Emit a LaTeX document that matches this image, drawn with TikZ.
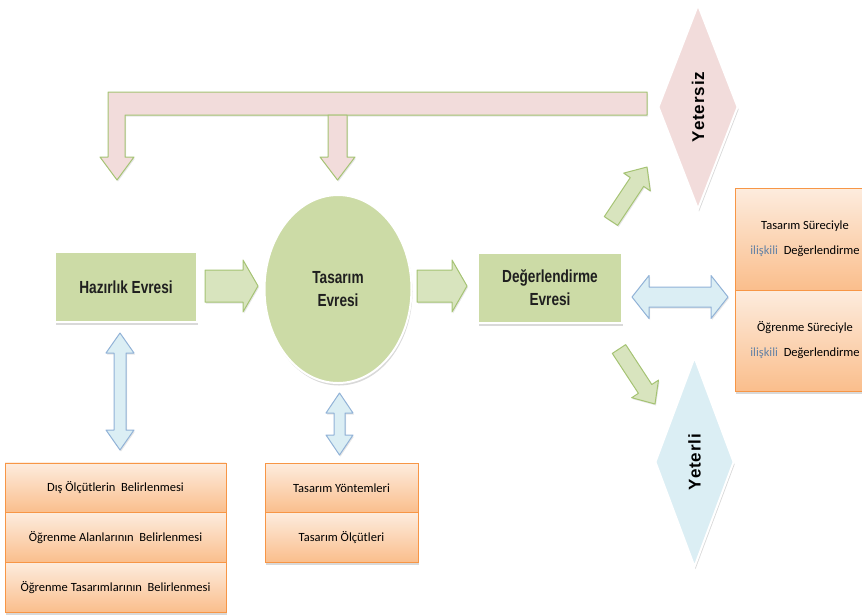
\documentclass[tikz,border=0pt]{standalone}
\usepackage{fontspec}
\setmainfont{Carlito}
\newfontfamily\nbfont[FakeStretch=0.78]{Liberation Sans}
\newfontfamily\dfont[LetterSpace=5]{Liberation Sans}
\usetikzlibrary{shapes.geometric,shadows}
\definecolor{boxgreen}{RGB}{204,219,166}
\definecolor{arrgreenfill}{RGB}{216,228,190}
\definecolor{arrgreenline}{RGB}{165,195,115}
\definecolor{pinkfill}{RGB}{242,220,219}
\definecolor{bluefill}{RGB}{219,238,244}
\definecolor{blueline}{RGB}{145,178,215}
\definecolor{orangetop}{RGB}{253,236,222}
\definecolor{orangebot}{RGB}{250,190,140}
\definecolor{orangeline}{RGB}{247,150,70}
\definecolor{iliscolor}{RGB}{100,130,165}
\tikzset{
  softshadow/.style={drop shadow={opacity=0.3, shadow xshift=1pt, shadow yshift=-2.5pt}},
  greenfont/.style={font=\nbfont\bfseries\fontsize{17.5}{23}\selectfont, text=black!88},
  greenbox/.style={rectangle, fill=boxgreen, draw=white, line width=2pt, softshadow,
    greenfont, align=center, inner sep=0pt},
  greenellipse/.style={ellipse, fill=boxgreen, draw=white, line width=2pt, softshadow,
    greenfont, align=center, inner sep=0pt},
  orangebox/.style={rectangle, draw=orangeline, line width=0.9pt, top color=orangetop,
    bottom color=orangebot, inner sep=0pt, align=center, softshadow,
    font=\fontsize{12.5}{25}\selectfont, text=black},
  decision/.style={diamond, draw=white, line width=2pt, inner sep=0pt, softshadow},
  decisiontext/.style={rotate=90, font=\dfont\bfseries\fontsize{17}{19}\selectfont, text=black},
  greenarrow/.style={fill=arrgreenfill, draw=arrgreenline, line width=1pt, line join=round,
    drop shadow={opacity=0.2, shadow xshift=1pt, shadow yshift=-1.5pt}},
  pinkarrow/.style={fill=pinkfill, draw=arrgreenline, line width=1pt, line join=round,
    drop shadow={opacity=0.2, shadow xshift=1pt, shadow yshift=-1.5pt}},
  bluearrow/.style={fill=bluefill, draw=blueline, line width=1pt, line join=round,
    drop shadow={opacity=0.2, shadow xshift=1pt, shadow yshift=-1.5pt}},
}
\newcommand{\ilis}{\textcolor{iliscolor}{ilişkili}}
\begin{document}
\begin{tikzpicture}[x=1pt,y=-1pt]
\useasboundingbox (0,0) rectangle (862,614);

% feedback (pink) bent arrow
\draw[pinkarrow] (647,92) -- (108,92) -- (108,157) -- (100,157) -- (117,180)
  -- (134,157) -- (125,157) -- (125,115) -- (647,115) -- cycle;
\draw[pinkarrow] (328,115) -- (328,157) -- (320,157) -- (337.5,180) -- (355,157)
  -- (347,157) -- (347,115) -- cycle;

% main nodes
\node[greenbox, minimum width=142pt, minimum height=70pt] (haz) at (126,287) {Hazırlık Evresi};
\node[greenellipse, minimum width=147pt, minimum height=188pt] (tas) at (338,289) {Tasarım\\Evresi};
\node[greenbox, minimum width=144pt, minimum height=70pt] (deg) at (550,288) {Değerlendirme\\Evresi};

% decisions
\node[decision, fill=pinkfill, minimum width=80pt, minimum height=205pt] (yetersiz) at (698,107) {};
\node[decisiontext] (yetersiztxt) at (yetersiz.center) {Yetersiz};
\node[decision, fill=bluefill, minimum width=79pt, minimum height=210pt] (yeterli) at (694.5,462) {};
\node[decisiontext] (yeterlitxt) at (yeterli.center) {Yeterli};

% horizontal process arrows
\draw[greenarrow] (205,270) -- (243,270) -- (243,260) -- (258,286) -- (243,312)
  -- (243,302) -- (205,302) -- cycle;
\draw[greenarrow] (417,270) -- (452,270) -- (452,260) -- (467,286) -- (452,312)
  -- (452,302) -- (417,302) -- cycle;

% diagonal arrows
\draw[greenarrow] (617.7,225.4) -- (604.3,216.6) -- (630.3,177.6) -- (623.7,173.1)
  -- (647,167) -- (650.3,190.9) -- (643.7,186.4) -- cycle;
\draw[greenarrow] (625.7,344.6) -- (612.3,353.4) -- (638.4,393.3) -- (631.7,397.7)
  -- (655,404) -- (658.5,380.1) -- (651.8,384.5) -- cycle;

% blue double arrows
\draw[bluearrow] (632,297) -- (649,275.5) -- (649,287) -- (711,287) -- (711,275.5)
  -- (728,297) -- (711,318.5) -- (711,307) -- (649,307) -- (649,318.5) -- cycle;
\draw[bluearrow] (120,333) -- (134,353) -- (126,353) -- (126,430) -- (134,430)
  -- (120,450) -- (106,430) -- (114,430) -- (114,353) -- (106,353) -- cycle;
\draw[bluearrow] (339.5,393) -- (353,413) -- (345,413) -- (345,435) -- (353,435)
  -- (339.5,455) -- (326,435) -- (334,435) -- (334,413) -- (326,413) -- cycle;

% left stack
\node[orangebox, minimum width=221pt, minimum height=49.7pt] (l1) at (115.5,487.8) {Dış Ölçütlerin\ \ Belirlenmesi};
\node[orangebox, minimum width=221pt, minimum height=49.7pt] (l2) at (115.5,537.5) {Öğrenme Alanlarının\ \ Belirlenmesi};
\node[orangebox, minimum width=221pt, minimum height=49.7pt] (l3) at (115.5,587.2) {Öğrenme Tasarımlarının\ \ Belirlenmesi};

% middle stack
\node[orangebox, minimum width=153pt, minimum height=49.5pt] (m1) at (341.5,487.8) {Tasarım Yöntemleri};
\node[orangebox, minimum width=153pt, minimum height=49.5pt] (m2) at (341.5,537.3) {Tasarım Ölçütleri};

% right stack
\node[orangebox, minimum width=140pt, minimum height=102pt] (r1) at (805,239) {Tasarım Süreciyle\\\ilis\ \ Değerlendirme};
\node[orangebox, minimum width=140pt, minimum height=101pt] (r2) at (805,340.5) {Öğrenme Süreciyle\\\ilis\ \ Değerlendirme};
\end{tikzpicture}
\end{document}
